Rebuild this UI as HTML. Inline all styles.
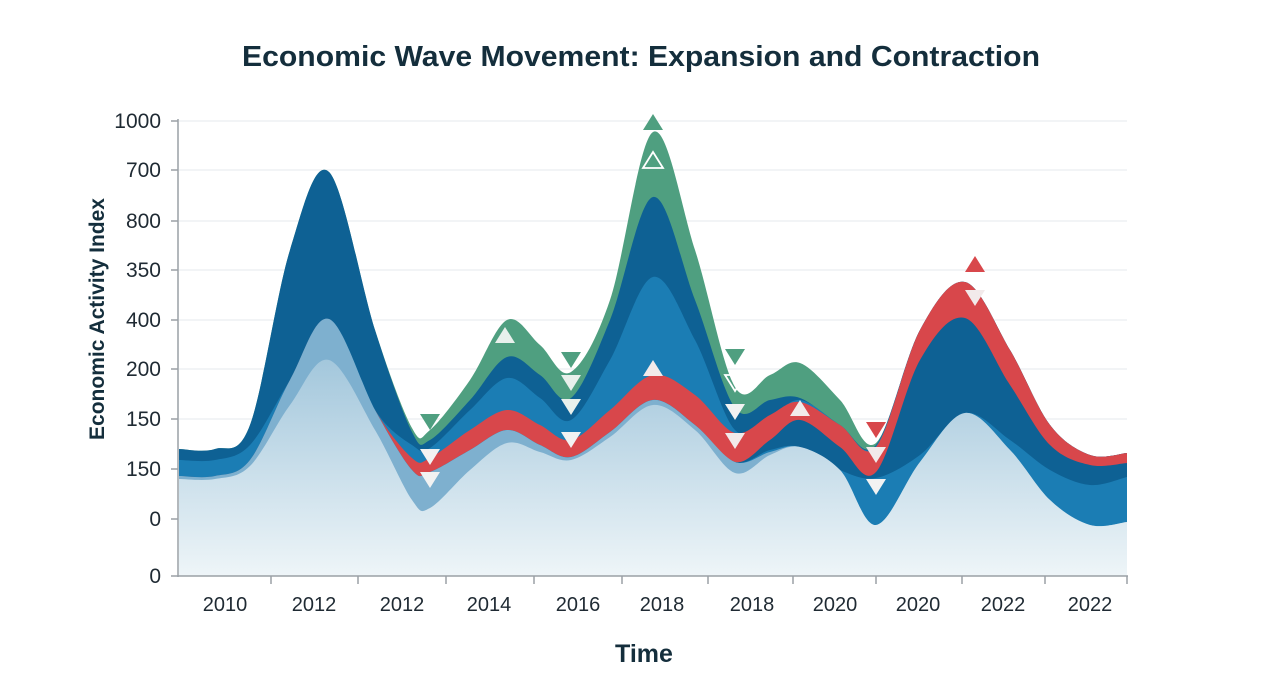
<!DOCTYPE html>
<html><head><meta charset="utf-8"><style>
html,body{margin:0;padding:0;background:#fff;}
svg{display:block;font-family:"Liberation Sans",sans-serif;}
</style></head><body>
<svg id="s" width="1280" height="698" viewBox="0 0 1280 698" xmlns="http://www.w3.org/2000/svg">
<defs>
<linearGradient id="pale" gradientUnits="userSpaceOnUse" x1="0" y1="360" x2="0" y2="576">
<stop offset="0" stop-color="#a3c7dc"/><stop offset="1" stop-color="#eef5f8"/></linearGradient>
</defs>
<text x="641" y="66" text-anchor="middle" font-size="29" font-weight="bold" fill="#142e3c" textLength="798" lengthAdjust="spacingAndGlyphs">Economic Wave Movement: Expansion and Contraction</text>
<g stroke="#e6e9ec" stroke-width="1">
<line x1="179" x2="1127" y1="121" y2="121"/><line x1="179" x2="1127" y1="170" y2="170"/><line x1="179" x2="1127" y1="221" y2="221"/><line x1="179" x2="1127" y1="270" y2="270"/><line x1="179" x2="1127" y1="320" y2="320"/><line x1="179" x2="1127" y1="369" y2="369"/><line x1="179" x2="1127" y1="419" y2="419"/><line x1="179" x2="1127" y1="469" y2="469"/><line x1="179" x2="1127" y1="519" y2="519"/><line x1="179" x2="1127" y1="539" y2="539"/>
</g>
<g id="areas"></g>
<g id="marks"></g>
<g stroke="#9aa0a6" stroke-width="1.5">
<line x1="178" y1="119" x2="178" y2="577"/><line x1="178" y1="576" x2="1128" y2="576"/>
<line x1="171" x2="178" y1="121" y2="121"/><line x1="171" x2="178" y1="170" y2="170"/><line x1="171" x2="178" y1="221" y2="221"/><line x1="171" x2="178" y1="270" y2="270"/><line x1="171" x2="178" y1="320" y2="320"/><line x1="171" x2="178" y1="369" y2="369"/><line x1="171" x2="178" y1="419" y2="419"/><line x1="171" x2="178" y1="469" y2="469"/><line x1="171" x2="178" y1="519" y2="519"/><line x1="171" x2="178" y1="576" y2="576"/>
<line x1="271" x2="271" y1="576" y2="584"/><line x1="358" x2="358" y1="576" y2="584"/><line x1="446" x2="446" y1="576" y2="584"/><line x1="534" x2="534" y1="576" y2="584"/><line x1="622" x2="622" y1="576" y2="584"/><line x1="708" x2="708" y1="576" y2="584"/><line x1="793" x2="793" y1="576" y2="584"/><line x1="876" x2="876" y1="576" y2="584"/><line x1="962" x2="962" y1="576" y2="584"/><line x1="1045" x2="1045" y1="576" y2="584"/><line x1="1127" x2="1127" y1="576" y2="584"/>
</g>
<g font-size="21" fill="#1f2a33" text-anchor="end">
<text x="161" y="128">1000</text><text x="161" y="177">700</text><text x="161" y="228">800</text><text x="161" y="277">350</text><text x="161" y="327">400</text><text x="161" y="376">200</text><text x="161" y="426">150</text><text x="161" y="476">150</text><text x="161" y="526">0</text><text x="161" y="583">0</text>
</g>
<g font-size="20" fill="#1f2a33" text-anchor="middle">
<text x="225" y="611">2010</text><text x="314" y="611">2012</text><text x="402" y="611">2012</text><text x="489" y="611">2014</text><text x="578" y="611">2016</text><text x="662" y="611">2018</text><text x="752" y="611">2018</text><text x="835" y="611">2020</text><text x="918" y="611">2020</text><text x="1003" y="611">2022</text><text x="1090" y="611">2022</text>
</g>
<text transform="translate(104,319) rotate(-90)" text-anchor="middle" font-size="21" font-weight="bold" fill="#142e3c">Economic Activity Index</text>
<text x="644" y="662" text-anchor="middle" font-size="25" font-weight="bold" fill="#142e3c">Time</text>
</svg>
<script>
var xs=[179,215,250,290,329,375,412,430,470,507,540,571,610,653,695,735,770,800,840,876,920,965,1010,1050,1090,1127];
var C={
G:[449,449,425,250,172,330,428,430,380,320,345,372,300,132,250,387,375,363,400,443,330,282,350,425,455,453],
D:[449,449,425,250,172,330,432,440,400,357,375,398,320,197,300,408,400,398,425,445,330,282,350,425,455,453],
M:[460,460,445,380,319,410,445,448,410,378,398,420,360,277,340,430,418,400,425,446,330,282,350,425,455,453],
R:[476,476,460,380,319,410,458,458,430,410,425,440,410,375,395,433,415,402,425,447,330,282,350,425,455,453],
D2:[476,476,460,380,319,410,470,472,450,430,445,457,432,400,425,462,440,420,447,472,360,318,385,445,465,463],
M2:[476,476,460,380,319,410,470,472,450,430,445,457,432,400,425,462,450,447,470,478,455,413,440,470,485,477],
L:[476,476,460,380,319,410,470,472,450,430,445,457,432,400,425,462,452,447,470,525,462,413,450,500,525,522],
P:[479,479,466,405,360,430,500,508,470,443,452,460,437,405,430,473,455,447,470,525,462,413,450,500,525,522]};
var col={G:"#4f9f80",D:"#0e6194",M:"#1b7db4",R:"#d8474b",D2:"#0e6194",M2:"#1b7db4",L:"#7eb0cf",P:"url(#pale)"};
function path(ys){var p=[];for(var i=0;i<xs.length;i++)p.push([xs[i],ys[i]]);
var d="M"+p[0][0]+","+p[0][1];
for(var i=0;i<p.length-1;i++){var p0=p[Math.max(0,i-1)],p1=p[i],p2=p[i+1],p3=p[Math.min(p.length-1,i+2)];
var c1x=p1[0]+(p2[0]-p0[0])/6,c1y=p1[1]+(p2[1]-p0[1])/6,c2x=p2[0]-(p3[0]-p1[0])/6,c2y=p2[1]-(p3[1]-p1[1])/6;
if(i==0){c1y=p1[1];}
d+=" C"+c1x.toFixed(1)+","+c1y.toFixed(1)+" "+c2x.toFixed(1)+","+c2y.toFixed(1)+" "+p2[0]+","+p2[1];}
return d+" L1127,576 L179,576 Z";}
var g=document.getElementById("areas"),h="";
["G","D","M","R","D2","M2","L","P"].forEach(function(k){h+='<path d="'+path(C[k])+'" fill="'+col[k]+'"/>';});
g.innerHTML=h;
var m=[[430,422,"d","#4f9f80"],[430,457,"d","#f2f2f2"],[430,480,"d","#f2f2f2"],[505,335,"u","#e8f0ec"],
[571,360,"d","#4f9f80"],[571,383,"d","#e8f0ec"],[571,407,"d","#e8f0ec"],[571,440,"d","#f2f2f2"],
[653,122,"u","#4f9f80"],[653,160,"uo","#fff"],[653,368,"u","#f2eaea"],
[735,357,"d","#4f9f80"],[735,383,"do","#fff"],[735,412,"d","#f2f2f2"],[735,441,"d","#f2eaea"],
[800,408,"u","#f2eaea"],[876,430,"d","#d8474b"],[876,455,"d","#f2eaea"],[876,487,"d","#f2f2f2"],
[975,264,"u","#d8474b"],[975,298,"d","#f2eaea"]];
var s="";m.forEach(function(a){var x=a[0],y=a[1],w=10,hh=8,pts;
if(a[2][0]=="u")pts=(x-w)+","+(y+hh)+" "+(x+w)+","+(y+hh)+" "+x+","+(y-hh);else pts=(x-w)+","+(y-hh)+" "+(x+w)+","+(y-hh)+" "+x+","+(y+hh);
if(a[2].length>1)s+='<polygon points="'+pts+'" fill="none" stroke="#fff" stroke-width="1.8"/>';else s+='<polygon points="'+pts+'" fill="'+a[3]+'"/>';});
document.getElementById("marks").innerHTML=s;
</script>
</body></html>
